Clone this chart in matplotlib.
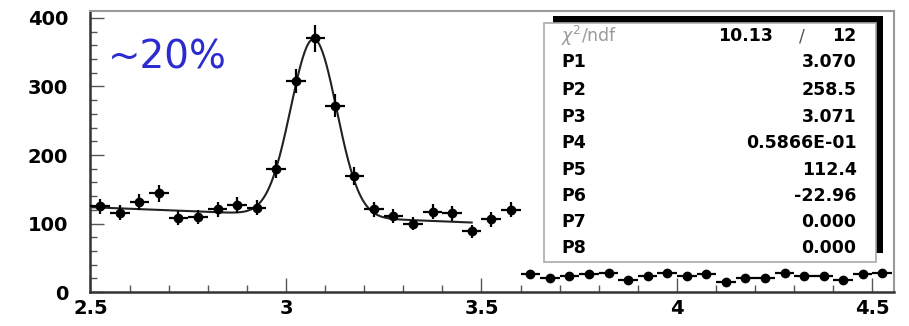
"""J/psi mass peak: binned counts with Gaussian + linear fit and a stats box."""
import numpy as np
import matplotlib.pyplot as plt
from matplotlib.patches import Rectangle
from matplotlib.ticker import MultipleLocator

# ── Data ─────────────────────────────────────────────────────────────────────

BIN_WIDTH = 0.05

# left sample (fitted)
x_sig = np.arange(2.525, 3.6, BIN_WIDTH)
y_sig = [125, 116, 131, 144, 108, 110, 121, 127, 123, 180,
         308, 370, 272, 170, 121, 111, 100, 117, 115, 89,
         106, 120]

# right sample
x_bkg = np.arange(3.625, 4.55, BIN_WIDTH)
y_bkg = [26, 21, 23, 26, 28, 18, 23, 28, 24, 27,
         15, 21, 21, 28, 24, 24, 17, 26, 28]

# fit results
chi2, ndf = 10.13, 12
par_names = ['P1', 'P2', 'P3', 'P4', 'P5', 'P6', 'P7', 'P8']
par_text = ['3.070', '258.5', '3.071', '0.5866E-01', '112.4', '-22.96', '0.000', '0.000']
P2, P3, P4, P5, P6 = 258.5, 3.071, 0.05866, 112.4, -22.96
FIT_RANGE = (2.5, 3.475)

x_ticks = [2.5, 3, 3.5, 4, 4.5]
x_ticklabels = ['2.5', '3', '3.5', '4', '4.5']
y_ticks = [0, 100, 200, 300, 400]


def fit_func(x):
    return P2 * np.exp(-0.5 * ((x - P3) / P4) ** 2) + P5 + P6 * (x - 3)


# ── Figure ───────────────────────────────────────────────────────────────────

fig = plt.figure(figsize=(9.09, 3.26), dpi=100)
ax = fig.add_axes([0.0995, 0.104, 0.884, 0.862])

err_kw = dict(fmt='o', color='black', ms=6, elinewidth=1.6, capsize=0, zorder=3)
ax.errorbar(x_sig, y_sig, xerr=BIN_WIDTH / 2, yerr=np.sqrt(y_sig), **err_kw)
ax.errorbar(x_bkg, y_bkg, xerr=BIN_WIDTH / 2, yerr=np.sqrt(y_bkg), **err_kw)

xf = np.linspace(*FIT_RANGE, 400)
ax.plot(xf, fit_func(xf), color='#222222', lw=1.5, zorder=2)

ax.set_xlim(2.5, 4.555)
ax.set_ylim(0, 410)
ax.set_xticks(x_ticks)
ax.set_xticklabels(x_ticklabels)
ax.set_yticks(y_ticks)
ax.xaxis.set_minor_locator(MultipleLocator(0.1))
ax.yaxis.set_minor_locator(MultipleLocator(20))

ax.tick_params(which='both', direction='in', color='#555555', width=1)
ax.tick_params(which='major', length=10)
ax.tick_params(which='minor', length=5)
ax.tick_params(axis='x', pad=5)
ax.tick_params(axis='y', pad=16)
for lab in ax.get_xticklabels() + ax.get_yticklabels():
    lab.set_fontweight('bold')
    lab.set_fontsize(14)

for side in ('left', 'bottom'):
    ax.spines[side].set_color('#333333')
    ax.spines[side].set_linewidth(1.8)
for side in ('top', 'right'):
    ax.spines[side].set_color('#999999')
    ax.spines[side].set_linewidth(1.5)

ax.text(0.022, 0.797, '~20%', transform=ax.transAxes, fontsize=28,
        color='#2b2bd0', va='baseline', ha='left')

# ── Stats box ────────────────────────────────────────────────────────────────

ax.add_patch(Rectangle((0.576, 0.139), 0.410, 0.843, transform=ax.transAxes,
                       facecolor='black', edgecolor='none', zorder=5))
ax.add_patch(Rectangle((0.5644, 0.107), 0.4132, 0.850, transform=ax.transAxes,
                       facecolor='white', edgecolor='#aaaaaa', lw=1.2, zorder=6))

row_px = [36, 62, 90, 117, 143, 170, 196, 222, 248]
rows = [(292 - r) / 281 for r in row_px]
lab_x, val_x = 0.5856, 0.9533

ax.text(lab_x, rows[0], r'$\chi^2$/ndf', transform=ax.transAxes, fontsize=12.5,
        color='#9a9a9a', va='center', ha='left', zorder=7)
ax.text(0.8494, rows[0], f'{chi2:.2f}', transform=ax.transAxes, fontsize=12.5,
        fontweight='bold', va='center', ha='right', zorder=7)
ax.text(0.8855, rows[0], '/', transform=ax.transAxes, fontsize=12.5,
        color='#555555', va='center', ha='center', zorder=7)
ax.text(val_x, rows[0], f'{ndf}', transform=ax.transAxes, fontsize=12.5,
        fontweight='bold', va='center', ha='right', zorder=7)

for name, val, yy in zip(par_names, par_text, rows[1:]):
    ax.text(lab_x, yy, name, transform=ax.transAxes, fontsize=12.5,
            fontweight='bold', va='center', ha='left', zorder=7)
    ax.text(val_x, yy, val, transform=ax.transAxes, fontsize=12.5,
            fontweight='bold', va='center', ha='right', zorder=7)

fig.savefig('out.png', dpi=100)
